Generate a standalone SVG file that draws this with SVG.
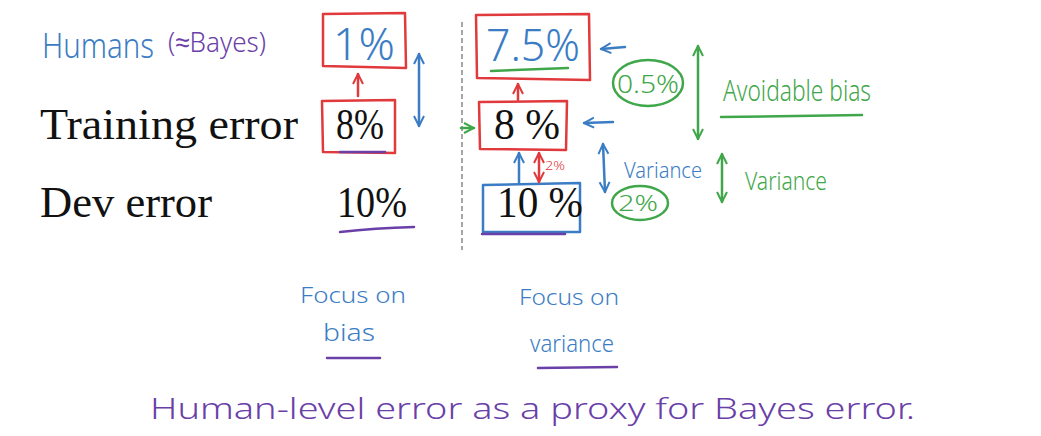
<svg xmlns="http://www.w3.org/2000/svg" width="1041" height="436" viewBox="0 0 1041 436">
<defs>
<style>
.ty{font-family:"Liberation Serif","Times New Roman",serif;fill:#111;}
.hw{font-family:"Noto Sans","DejaVu Sans",sans-serif;font-weight:300;}
.b{fill:#3b7dc4;}
.r{fill:#e03a3c;}
.g{fill:#3fa74a;}
.p{fill:#6a40a8;}
.box{fill:none;stroke-width:2.5;stroke-linejoin:round;}
.sr{stroke:#e03a3c;}
.sb{stroke:#3b7dc4;}
.sg{stroke:#3fa74a;}
.sp{stroke:#6a40a8;}
.ln{fill:none;stroke-width:2.5;stroke-linecap:round;}
</style>
<marker id="hb" viewBox="0 0 10 10" refX="9" refY="5" markerWidth="5" markerHeight="5" orient="auto-start-reverse" markerUnits="strokeWidth"><path d="M1,1 L9,5 L1,9" fill="none" stroke="#3b7dc4" stroke-width="1.6"/></marker>
<marker id="hr" viewBox="0 0 10 10" refX="9" refY="5" markerWidth="5" markerHeight="5" orient="auto-start-reverse" markerUnits="strokeWidth"><path d="M1,1 L9,5 L1,9" fill="none" stroke="#e03a3c" stroke-width="1.6"/></marker>
<marker id="hg" viewBox="0 0 10 10" refX="9" refY="5" markerWidth="5" markerHeight="5" orient="auto-start-reverse" markerUnits="strokeWidth"><path d="M1,1 L9,5 L1,9" fill="none" stroke="#3fa74a" stroke-width="1.6"/></marker>
</defs>
<rect width="1041" height="436" fill="#fff"/>

<g id="labels">
<text class="hw b" x="42" y="58" font-size="34" textLength="112" lengthAdjust="spacingAndGlyphs">Humans</text>
<text class="hw p" x="168" y="52" font-size="28" textLength="98" lengthAdjust="spacingAndGlyphs">(≈Bayes)</text>
<text class="ty" x="40" y="139" font-size="45" textLength="258" lengthAdjust="spacingAndGlyphs">Training error</text>
<text class="ty" x="40" y="217" font-size="45" textLength="172" lengthAdjust="spacingAndGlyphs">Dev error</text>
</g>

<g id="divider">
<line x1="462" y1="22" x2="462" y2="250" stroke="#888" stroke-width="1.5" stroke-dasharray="5,3"/>
</g>

<g id="left-human">
<path class="box sr" d="M323,14 L405,13 L406,68 L323,66 Z"/>
<text class="hw b" x="333" y="60" font-size="44" textLength="62" lengthAdjust="spacingAndGlyphs">1%</text>
</g>
<g id="left-train">
<path class="box sr" d="M322,101 L395,100 L395,153 L323,152 Z"/>
<text class="ty" x="336" y="139" font-size="45" textLength="48" lengthAdjust="spacingAndGlyphs">8%</text>
<line class="ln sp" x1="340" y1="152" x2="385" y2="152"/>
</g>
<g id="left-dev">
<text class="ty" x="337" y="217" font-size="45" textLength="70" lengthAdjust="spacingAndGlyphs">10%</text>
<path class="ln sp" d="M340,232 Q375,228 414,227"/>
</g>

<g id="right-human">
<path class="box sr" d="M476,15 L589,14 L590,80 L477,78 Z"/>
<text class="hw b" x="486" y="61" font-size="44" textLength="94" lengthAdjust="spacingAndGlyphs">7.5%</text>
<line class="ln sg" x1="491" y1="71" x2="568" y2="68"/>
</g>
<g id="right-train">
<path class="box sr" d="M479,102 L567,101 L566,150 L480,149 Z"/>
<text class="ty" x="494" y="139" font-size="45" textLength="66" lengthAdjust="spacingAndGlyphs">8 %</text>
</g>
<g id="right-dev">
<path class="box sb" d="M483,185 L580,183 L580,232 L483,232 Z"/>
<text class="ty" x="497" y="217" font-size="45" textLength="86" lengthAdjust="spacingAndGlyphs">10 %</text>
<line class="ln sp" x1="482" y1="234" x2="565" y2="234"/>
</g>

<g id="avoidable-bias">
<ellipse class="box sg" cx="648" cy="83" rx="35" ry="23"/>
<text class="hw g" x="617" y="93" font-size="26" textLength="62" lengthAdjust="spacingAndGlyphs">0.5%</text>
<text class="hw g" x="723" y="101" font-size="30" textLength="148" lengthAdjust="spacingAndGlyphs">Avoidable bias</text>
<line class="ln sg" x1="721" y1="117" x2="862" y2="115"/>
</g>
<g id="variance-right">
<text class="hw b" x="624" y="178" font-size="22" textLength="78" lengthAdjust="spacingAndGlyphs">Variance</text>
<ellipse class="box sg" cx="640" cy="203" rx="28" ry="17"/>
<text class="hw g" x="618" y="211" font-size="22" textLength="40" lengthAdjust="spacingAndGlyphs">2%</text>
<text class="hw g" x="745" y="190" font-size="26" textLength="82" lengthAdjust="spacingAndGlyphs">Variance</text>
<text class="hw r" x="545" y="170" font-size="13" textLength="20" lengthAdjust="spacingAndGlyphs">2%</text>
</g>

<g id="focus-bias">
<text class="hw b" x="300" y="303" font-size="22" textLength="106" lengthAdjust="spacingAndGlyphs">Focus on</text>
<text class="hw b" x="323" y="341" font-size="24" textLength="52" lengthAdjust="spacingAndGlyphs">bias</text>
<line class="ln sp" x1="327" y1="358" x2="380" y2="358"/>
</g>
<g id="focus-variance">
<text class="hw b" x="519" y="305" font-size="22" textLength="100" lengthAdjust="spacingAndGlyphs">Focus on</text>
<text class="hw b" x="530" y="352" font-size="24" textLength="84" lengthAdjust="spacingAndGlyphs">variance</text>
<line class="ln sp" x1="538" y1="368" x2="617" y2="367"/>
</g>

<g id="caption">
<text class="hw p" x="150" y="419" font-size="30" textLength="765" lengthAdjust="spacingAndGlyphs">Human-level error as a proxy for Bayes error.</text>
</g>

<g id="connectors">
<line class="ln sr" x1="358" y1="96" x2="358" y2="74" marker-end="url(#hr)"/>
<line class="ln sb" x1="419" y1="54" x2="419" y2="126" marker-start="url(#hb)" marker-end="url(#hb)"/>
<line class="ln sr" x1="518" y1="100" x2="518" y2="84" marker-end="url(#hr)"/>
<line class="ln sb" x1="625" y1="47" x2="601" y2="49" marker-end="url(#hb)"/>
<line class="ln sg" x1="698" y1="46" x2="698" y2="139" marker-start="url(#hg)" marker-end="url(#hg)"/>
<line class="ln sg" x1="461" y1="128" x2="474" y2="128" marker-end="url(#hg)"/>
<line class="ln sb" x1="613" y1="122" x2="584" y2="123" marker-end="url(#hb)"/>
<line class="ln sb" x1="519" y1="183" x2="519" y2="153" marker-end="url(#hb)"/>
<line class="ln sr" x1="539" y1="153" x2="539" y2="182" marker-start="url(#hr)" marker-end="url(#hr)"/>
<line class="ln sb" x1="603" y1="144" x2="605" y2="192" marker-start="url(#hb)" marker-end="url(#hb)"/>
<line class="ln sg" x1="722" y1="154" x2="722" y2="202" marker-start="url(#hg)" marker-end="url(#hg)"/>
</g>
</svg>
